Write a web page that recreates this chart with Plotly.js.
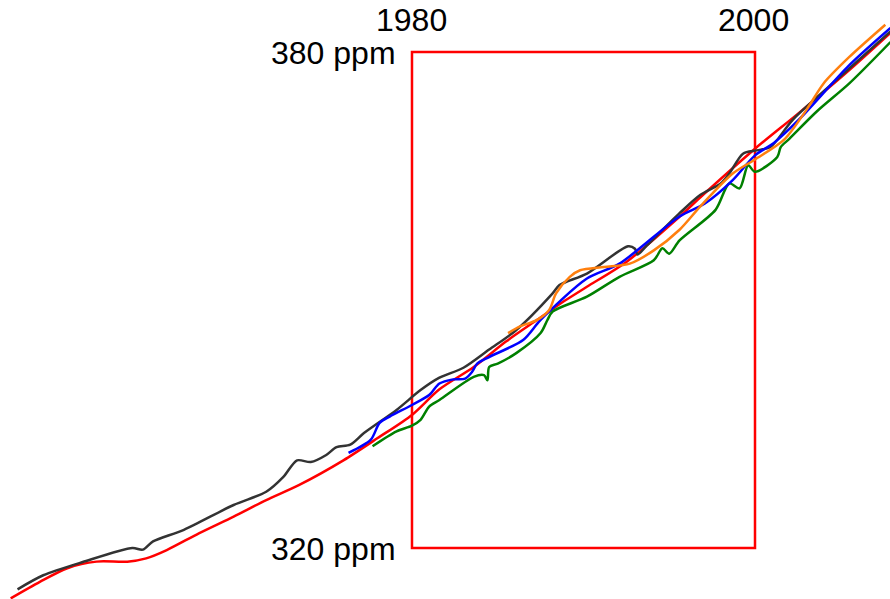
<!DOCTYPE html>
<html>
<head>
<meta charset="utf-8">
<script src="https://cdn.plot.ly/plotly-3.0.1.min.js"></script>
<style>html,body{margin:0;padding:0;background:#fff;}#chart{width:890px;height:599px;}</style>
</head>
<body>
<div id="chart"></div>
<script>
// Red: smooth fit
var redYears = [1956.6, 1958.3, 1959.9, 1961.6, 1963.4, 1964.5, 1965.7, 1967.6, 1969.6, 1971.5, 1973.4, 1976.0, 1978.0, 1980.0, 1981.6, 1983.6, 1985.5, 1987.3, 1988.9, 1990.2, 1992.5, 1995.4, 1996.8, 2000.0, 2002.6, 2005.5, 2007.9];
var redPpm   = [313.9, 315.9, 317.55, 318.35, 318.35, 318.75, 319.75, 321.8, 323.8, 325.8, 327.6, 330.6, 333.3, 336.1, 339.2, 341.9, 345.0, 347.6, 349.9, 351.6, 354.6, 359.7, 362.4, 368.3, 372.7, 377.8, 382.3];

// Dark grey
var blackYears = [1957.0, 1958.5, 1960.8, 1963.7, 1964.3, 1964.9, 1966.7, 1969.6, 1971.5, 1972.5, 1973.3, 1974.1, 1975.0, 1975.6, 1976.4, 1977.2, 1979.1, 1980.5, 1981.6, 1983.0, 1984.5, 1986.1, 1988.2, 1988.6, 1990.2, 1992.6, 1993.0, 1993.15, 1993.7, 1995.6, 1996.8, 1998.0, 1998.5, 1999.3, 2000.1, 2000.9, 2002.2, 2005.5, 2007.9];
var blackPpm   = [315.0, 316.7, 318.3, 320.0, 319.8, 320.8, 322.2, 325.2, 326.8, 328.6, 330.6, 330.4, 331.25, 332.2, 332.5, 333.9, 336.7, 339.1, 340.6, 341.8, 344.0, 346.4, 350.8, 351.8, 353.2, 356.5, 356.2, 355.5, 356.6, 360.5, 362.7, 364.1, 365.3, 367.7, 368.1, 368.5, 371.8, 378.0, 382.5];

// Blue
var blueYears = [1976.3, 1977.6, 1978.1, 1978.7, 1980.0, 1981.0, 1981.6, 1982.4, 1983.1, 1983.5, 1983.8, 1984.5, 1986.5, 1987.5, 1990.2, 1992.1, 1995.6, 1997.1, 1998.7, 2000.0, 2001.1, 2002.6, 2005.5, 2007.9];
var bluePpm   = [331.5, 333.1, 335.1, 335.9, 337.3, 338.5, 339.9, 340.4, 340.5, 341.3, 342.3, 343.1, 345.2, 347.6, 352.6, 354.4, 360.1, 361.7, 364.5, 367.5, 369.0, 371.9, 378.4, 382.9];

// Green
var greenYears = [1977.7, 1979.1, 1980.0, 1980.5, 1981.0, 1981.6, 1983.6, 1984.2, 1984.4, 1984.5, 1985.0, 1986.1, 1987.5, 1987.9, 1988.2, 1990.2, 1992.1, 1994.1, 1994.6, 1995.0, 1995.6, 1997.7, 1998.5, 1999.1, 1999.6, 2000.0, 2001.3, 2001.5, 2002.0, 2003.6, 2005.5, 2007.9];
var greenPpm   = [332.3, 334.1, 334.8, 335.5, 337.1, 337.9, 340.7, 340.9, 340.3, 341.9, 342.3, 343.6, 346.0, 347.6, 348.6, 350.4, 352.8, 354.8, 356.25, 355.6, 357.2, 360.9, 364.1, 363.5, 366.3, 365.5, 367.3, 368.5, 369.5, 372.8, 376.2, 381.2];

// Orange
var orangeYears = [1985.6, 1986.3, 1987.3, 1988.0, 1988.4, 1989.2, 1989.8, 1991.2, 1992.7, 1994.1, 1995.6, 1996.8, 1998.7, 2000.0, 2001.7, 2003.0, 2004.0, 2005.5, 2007.6];
var orangePpm   = [346.0, 346.8, 347.6, 348.8, 350.8, 352.8, 353.6, 354.0, 354.4, 356.0, 358.5, 361.3, 365.3, 367.0, 369.4, 373.0, 376.2, 379.4, 383.3];

// Box and labels
var boxYears = [1980, 2000];
var boxPpm = [320, 380];
var yearLabels = ['1980', '2000'];
var ppmLabels = ['320 ppm', '380 ppm'];

function series(x, y, color) {
  return {x: x, y: y, type: 'scatter', mode: 'lines',
          line: {color: color, width: 2.5, shape: 'spline', smoothing: 0.8},
          hoverinfo: 'skip', showlegend: false};
}

var data = [
  series(redYears, redPpm, '#ff0000'),
  series(blackYears, blackPpm, '#333333'),
  series(greenYears, greenPpm, '#008000'),
  series(blueYears, bluePpm, '#0000ff'),
  series(orangeYears, orangePpm, '#ff7f0e')
];

var font = {family: 'Liberation Sans, Arial, sans-serif', size: 32, color: '#000'};
var annotations = [];
yearLabels.forEach(function (t, i) {
  annotations.push({x: boxYears[i], y: boxPpm[1], xref: 'x', yref: 'y', text: t,
    showarrow: false, xanchor: 'center', yanchor: 'bottom', yshift: 12, xshift: i === 0 ? 0 : -2, font: font});
});
ppmLabels.forEach(function (t, i) {
  annotations.push({x: boxYears[0], y: boxPpm[i], xref: 'x', yref: 'y', text: t,
    showarrow: false, xanchor: 'right', yanchor: 'middle', xshift: -14, yshift: -1, font: font});
});

var layout = {
  width: 890, height: 599,
  margin: {l: 0, r: 0, t: 0, b: 0, pad: 0},
  paper_bgcolor: '#ffffff', plot_bgcolor: '#ffffff',
  xaxis: {range: [1955.977, 2007.872], visible: false, fixedrange: true},
  yaxis: {range: [313.83, 386.29], visible: false, fixedrange: true},
  shapes: [{type: 'rect', xref: 'x', yref: 'y', x0: boxYears[0], x1: boxYears[1],
            y0: boxPpm[0], y1: boxPpm[1], line: {color: '#ff0000', width: 2.5}, layer: 'below'}],
  annotations: annotations,
  showlegend: false
};

Plotly.newPlot('chart', data, layout, {staticPlot: true, displayModeBar: false});
</script>
</body>
</html>
